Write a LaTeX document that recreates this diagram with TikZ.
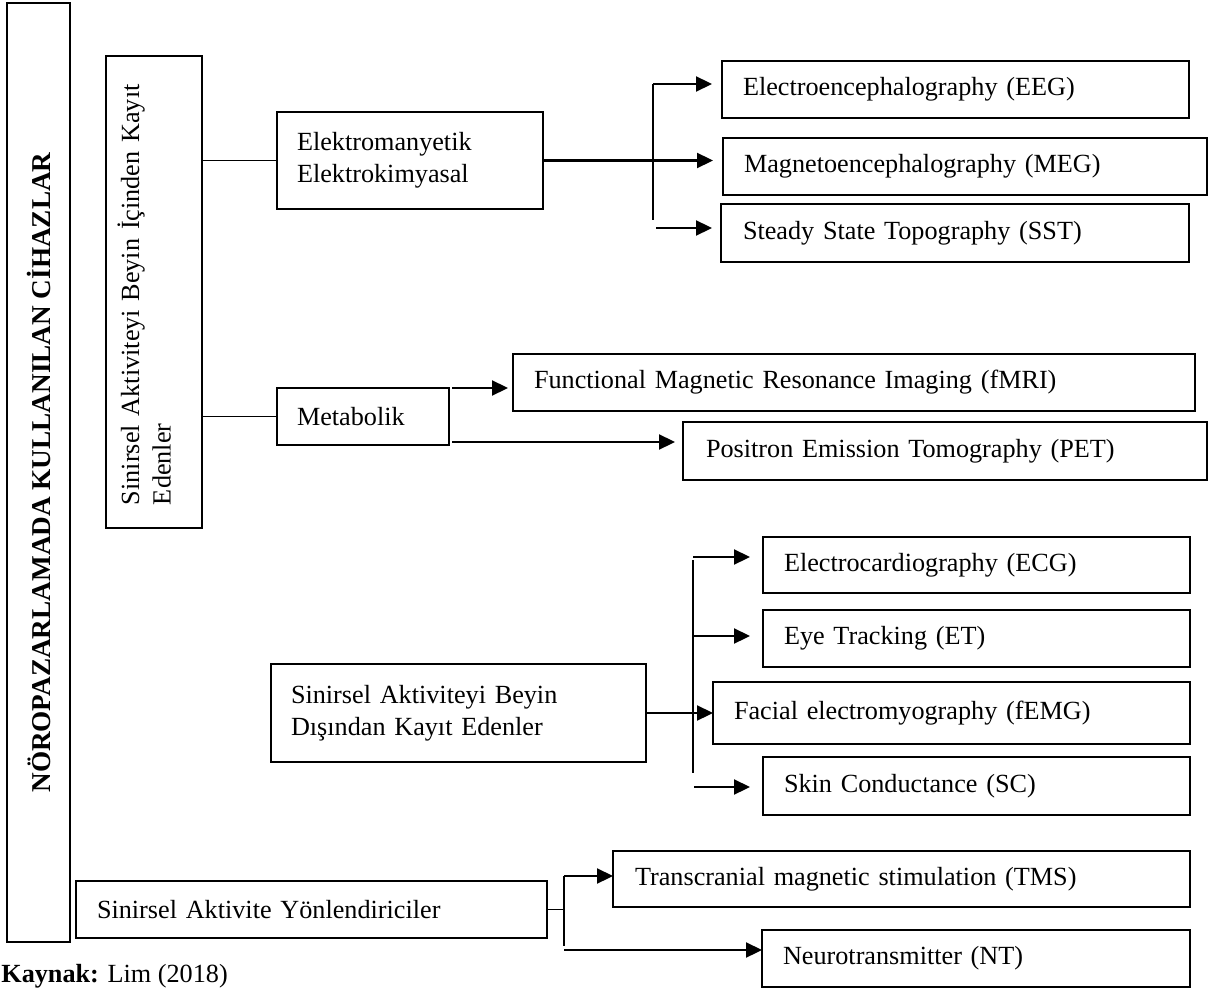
\documentclass[tikz,border=0pt]{standalone}
\usepackage{fontspec}
\setmainfont{Liberation Serif}
\usetikzlibrary{arrows.meta}
\begin{document}
\begin{tikzpicture}[x=0.5pt,y=-0.5pt,
  font=\fontsize{13.1pt}{15.8pt}\selectfont,
  bx/.style={draw, line width=0.7pt, inner ysep=0pt, inner xsep=10.5pt, outer sep=0pt, align=left, anchor=north west},
  rbx/.style={draw, line width=0.7pt, rotate=90, outer sep=0pt},
  thinline/.style={line width=0.7pt},
  conn/.style={line width=1.1pt},
  arr/.style={conn, -{Triangle[length=8pt,width=7.5pt]}}]
\useasboundingbox (0,0) rectangle (1208,989);
\clip (0,0) rectangle (1208,989);

% left column
\node[rbx, minimum width=469.5pt, minimum height=31.5pt, inner sep=0pt,
      font=\fontsize{13.6pt}{16pt}\selectfont\bfseries] (title) at (38.5,472.5)
      {NÖROPAZARLAMADA KULLANILAN CİHAZLAR};
\node[rbx, minimum width=236pt, minimum height=48pt, inner ysep=0pt, inner xsep=11.5pt,
      text width=213pt, align=left] (icin) at (154,292)
      {Sinirsel Aktiviteyi Beyin İçinden Kayıt\\Edenler\rule[-10pt]{0pt}{10pt}};

% second level
\node[bx, minimum width=133pt, minimum height=48.5pt, inner xsep=10pt, text width=113pt] (elektro) at (277,112) {Elektromanyetik\\Elektrokimyasal};
\node[bx, minimum width=86pt, minimum height=28.5pt, inner xsep=10pt, text width=66pt] (metab) at (277,388) {Metabolik};
\node[bx, minimum width=187.5pt, minimum height=49pt, inner xsep=10pt, text width=167.5pt] (dis) at (271,664) {Sinirsel Aktiviteyi Beyin\\Dışından Kayıt Edenler};
\node[bx, minimum width=235.5pt, minimum height=28.5pt, text width=214.5pt] (yon) at (76,881) {Sinirsel Aktivite Yönlendiriciler};

% leaves
\node[bx, minimum width=233.5pt, minimum height=28.5pt, text width=212.5pt] (eeg) at (722,61) {Electroencephalography (EEG)};
\node[bx, minimum width=242pt, minimum height=28.5pt, text width=221pt] (meg) at (723,138) {Magnetoencephalography (MEG)};
\node[bx, minimum width=234pt, minimum height=29pt, inner xsep=11pt, text width=212pt] (sst) at (721,204) {Steady State Topography (SST)};
\node[bx, minimum width=341pt, minimum height=28.5pt, text width=320pt] (fmri) at (513,354) {Functional Magnetic Resonance Imaging (fMRI)};
\node[bx, minimum width=262pt, minimum height=29pt, inner xsep=11.5pt, text width=239pt] (pet) at (683,422) {Positron Emission Tomography (PET)};
\node[bx, minimum width=213.5pt, minimum height=28pt, text width=192.5pt] (ecg) at (763,537) {Electrocardiography (ECG)};
\node[bx, minimum width=213.5pt, minimum height=28.5pt, text width=192.5pt] (et) at (763,610) {Eye Tracking (ET)};
\node[bx, minimum width=238.5pt, minimum height=31pt, text width=217.5pt] (femg) at (713,682) {Facial electromyography (fEMG)};
\node[bx, minimum width=213.5pt, minimum height=29pt, text width=192.5pt] (sc) at (763,757) {Skin Conductance (SC)};
\node[bx, minimum width=288.5pt, minimum height=28pt, inner xsep=11pt, text width=266.5pt] (tms) at (613,851) {Transcranial magnetic stimulation (TMS)};
\node[bx, minimum width=214pt, minimum height=28.5pt, text width=193pt] (nt) at (762,930) {Neurotransmitter (NT)};

% connectors from the inside-brain box
\draw[thinline] (icin.south |- elektro.west) -- (elektro.west);
\draw[thinline] (icin.south |- metab.west) -- (metab.west);

% Elektro branch
\coordinate (j1t) at (653,84);
\coordinate (j1b) at (653,220);
\coordinate (s1) at (656,228);
\draw[conn] (j1t) -- (j1b);
\draw[conn] (elektro.east) -- (elektro.east -| j1t);
\draw[arr, shorten >=5pt] (j1t) -- (j1t -| eeg.west);
\draw[arr, shorten >=5pt] (elektro.east -| j1t) -- (elektro.east -| meg.west);
\draw[arr, shorten >=4.5pt] (s1) -- (s1 -| sst.west);

% Metabolik branch
\coordinate (m1) at (452,388);
\coordinate (m2) at (452,442);
\draw[arr, shorten >=2.5pt] (m1) -- (m1 -| fmri.west);
\draw[arr, shorten >=4pt] (m2) -- (m2 -| pet.west);

% Outside-brain branch
\coordinate (j2t) at (693,560);
\coordinate (j2b) at (693,773);
\coordinate (e1) at (693,557);
\coordinate (e2) at (693,636);
\coordinate (e3) at (694,787);
\draw[conn] (j2t) -- (j2b);
\draw[arr] (dis.east) -- (femg.west);
\draw[arr, shorten >=6.5pt] (e1) -- (e1 -| ecg.west);
\draw[arr, shorten >=6.5pt] (e2) -- (e2 -| et.west);
\draw[arr, shorten >=6.5pt] (e3) -- (e3 -| sc.west);

% Directors branch
\coordinate (j3t) at (564,876);
\coordinate (j3b) at (564,946);
\coordinate (n1) at (564,950);
\draw[conn] (j3t) -- (j3b);
\draw[thinline] (yon.east) -- (yon.east -| j3t);
\draw[arr] (j3t) -- (j3t -| tms.west);
\draw[arr] (n1) -- (n1 -| nt.west);

% source line
\node[anchor=base west, inner sep=0pt] (src) at (1,982) {\textbf{Kaynak:} Lim (2018)};
\end{tikzpicture}
\end{document}
